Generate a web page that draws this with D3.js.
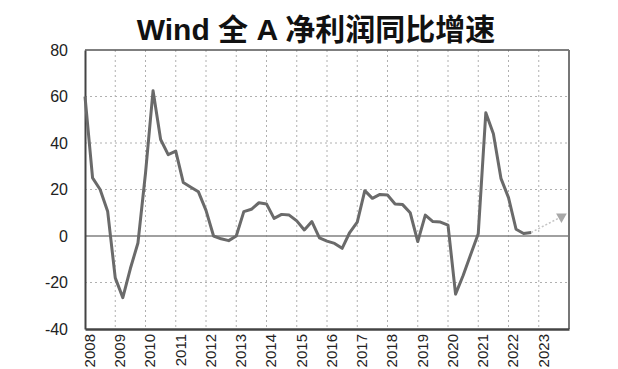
<!DOCTYPE html>
<html>
<head>
<meta charset="utf-8">
<script src="https://cdn.jsdelivr.net/npm/d3@7"></script>
<style>
  html, body { margin: 0; padding: 0; background: #fff; overflow: hidden; }
  svg { display: block; }
</style>
</head>
<body>
<svg id="chart" width="618" height="369"></svg>
<script>
const title = "Wind 全 A 净利润同比增速";
const yearTicks = ["2008","2009","2010","2011","2012","2013","2014","2015","2016","2017","2018","2019","2020","2021","2022","2023"];
const yTicks = [80, 60, 40, 20, 0, -20, -40];
const periods = [
  "2008Q1","2008Q2","2008Q3","2008Q4","2009Q1","2009Q2","2009Q3","2009Q4",
  "2010Q1","2010Q2","2010Q3","2010Q4","2011Q1","2011Q2","2011Q3","2011Q4",
  "2012Q1","2012Q2","2012Q3","2012Q4","2013Q1","2013Q2","2013Q3","2013Q4",
  "2014Q1","2014Q2","2014Q3","2014Q4","2015Q1","2015Q2","2015Q3","2015Q4",
  "2016Q1","2016Q2","2016Q3","2016Q4","2017Q1","2017Q2","2017Q3","2017Q4",
  "2018Q1","2018Q2","2018Q3","2018Q4","2019Q1","2019Q2","2019Q3","2019Q4",
  "2020Q1","2020Q2","2020Q3","2020Q4","2021Q1","2021Q2","2021Q3","2021Q4",
  "2022Q1","2022Q2","2022Q3","2022Q4"
];
const growth = [
  60, 25, 20, 10.5, -18, -26.5, -14, -3,
  27, 62.5, 41.5, 35, 36.5, 23, 21, 19,
  11, 0, -1.2, -2, 0, 10.5, 11.5, 14.3,
  13.8, 7.6, 9.3, 9, 6.5, 2.6, 6.2, -0.8,
  -2.2, -3.2, -5.3, 1.5, 6, 19.5, 16.2, 17.9,
  17.6, 13.8, 13.5, 10, -2.4, 9, 6.2, 6,
  4.7, -25, -17, -8, 1, 53, 44, 24.8,
  16.5, 2.9, 1.1, 1.5
];
const forecastPeriods = ["2022Q4", "2023Q4"];
const forecastValues = [1.5, 8.3];

const toTime = p => +p.slice(0, 4) + (+p.slice(5) - 1) * 0.25;

const svg = d3.select("#chart");
const m = { left: 85, right: 569, top: 50, bottom: 329 };

const x = d3.scaleLinear().domain([2008, 2024]).range([m.left, m.right]);
const y = d3.scaleLinear().domain([-40, 80]).range([m.bottom, m.top]);

// Title
svg.append("text")
  .attr("x", 316).attr("y", 40)
  .attr("text-anchor", "middle")
  .attr("font-family", "'Liberation Sans', Arial, 'Noto Sans CJK SC', sans-serif")
  .attr("font-weight", "bold")
  .attr("font-size", 30)
  .attr("fill", "#111")
  .text(title);

// Horizontal gridlines
const gridY = svg.append("g");
gridY.selectAll("line").data(yTicks.filter(v => v !== 80 && v !== -40 && v !== 0)).join("line")
  .attr("x1", m.left).attr("x2", m.right)
  .attr("y1", d => y(d)).attr("y2", d => y(d))
  .attr("stroke", "#b0b0b0").attr("stroke-width", 1)
  .attr("stroke-dasharray", "2,3");

// Vertical gridlines
const gridX = svg.append("g");
gridX.selectAll("line").data(yearTicks.slice(1)).join("line")
  .attr("x1", d => x(+d)).attr("x2", d => x(+d))
  .attr("y1", m.top).attr("y2", m.bottom)
  .attr("stroke", "#b0b0b0").attr("stroke-width", 1)
  .attr("stroke-dasharray", "2,3");

// Zero line
svg.append("line")
  .attr("x1", m.left).attr("x2", m.right)
  .attr("y1", y(0)).attr("y2", y(0))
  .attr("stroke", "#808080").attr("stroke-width", 1.5);

// Frame
svg.append("line").attr("x1", m.left).attr("x2", m.right).attr("y1", m.top).attr("y2", m.top)
  .attr("stroke", "#555").attr("stroke-width", 1.5);
svg.append("line").attr("x1", m.right).attr("x2", m.right).attr("y1", m.top).attr("y2", m.bottom)
  .attr("stroke", "#777").attr("stroke-width", 2);

// Y axis
const yAxis = d3.axisLeft(y).tickValues(yTicks).tickSize(0).tickPadding(17).tickFormat(d => String(d));
const gy = svg.append("g").attr("transform", `translate(${m.left},0)`).call(yAxis);
gy.select(".domain").attr("stroke", "#444").attr("stroke-width", 2);
gy.selectAll("text")
  .attr("font-family", "'Liberation Sans', Arial, sans-serif")
  .attr("font-size", 16).attr("fill", "#222");

// X axis
const xAxis = d3.axisBottom(x).tickValues(yearTicks.map(Number)).tickSize(0).tickFormat(d => String(d));
const gx = svg.append("g").attr("transform", `translate(0,${m.bottom})`).call(xAxis);
gx.select(".domain").attr("stroke", "#444").attr("stroke-width", 2.5);
gx.selectAll("text")
  .attr("font-family", "'Liberation Sans', Arial, sans-serif")
  .attr("font-size", 15).attr("fill", "#222")
  .attr("text-anchor", "end")
  .attr("transform", "translate(4,5) rotate(-90)")
  .attr("x", 0).attr("y", 0).attr("dy", "0.35em");

// Main line
const data = periods.map((p, i) => ({ t: toTime(p), v: growth[i] }));
const line = d3.line().x(d => x(d.t)).y(d => y(d.v));
svg.append("path").datum(data)
  .attr("d", line)
  .attr("fill", "none")
  .attr("stroke", "#6a6a6a")
  .attr("stroke-width", 3)
  .attr("stroke-linejoin", "round");

// Forecast dotted line + marker
const fdata = forecastPeriods.map((p, i) => ({ t: toTime(p), v: forecastValues[i] }));
svg.append("path").datum(fdata)
  .attr("d", line)
  .attr("fill", "none")
  .attr("stroke", "#c4c4c4")
  .attr("stroke-width", 1.5)
  .attr("stroke-dasharray", "2,2");
const last = fdata[fdata.length - 1];
svg.append("path")
  .attr("d", d3.symbol().type(d3.symbolTriangle).size(50))
  .attr("transform", `translate(${x(last.t)},${y(last.v)}) rotate(180)`)
  .attr("fill", "#a8a8a8");
</script>
</body>
</html>
